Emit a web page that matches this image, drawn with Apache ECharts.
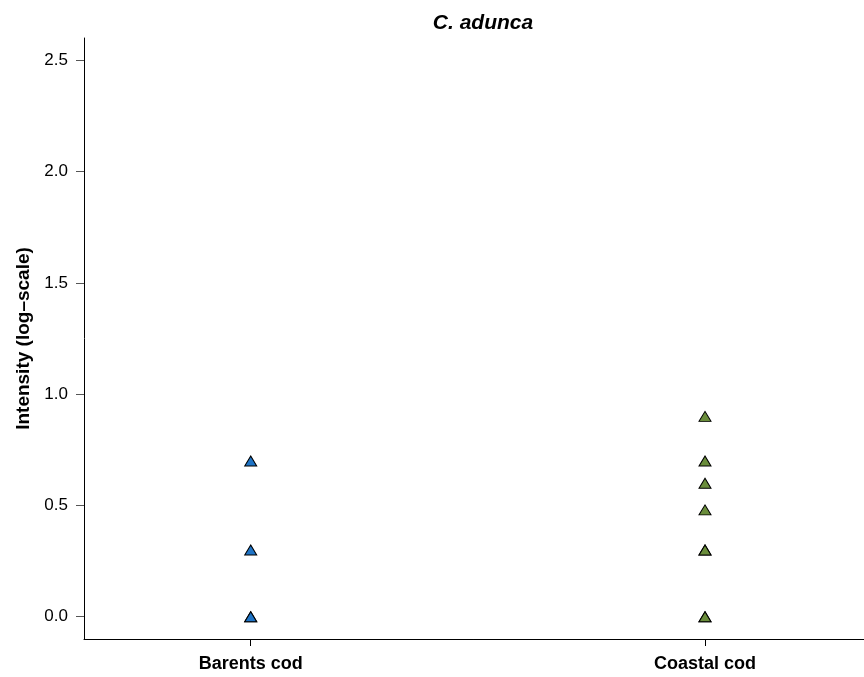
<!DOCTYPE html>
<html><head><meta charset="utf-8">
<script src="https://cdn.jsdelivr.net/npm/echarts@6/dist/echarts.min.js"></script>
<style>html,body{margin:0;padding:0;background:#fff}#c{width:864px;height:677px}</style>
</head><body><div id="c"></div>
<script>
const categories = ["Barents cod", "Coastal cod"];
const barentsValues = [0.70, 0.30, 0.0, 0.0];
const coastalValues = [0.90, 0.70, 0.60, 0.48, 0.30, 0.30, 0.0, 0.0];
const yTicks = [0, 0.5, 1.0, 1.5, 2.0, 2.5];
const colors = ["#1f74c6", "#6a8d3b"];

const chart = echarts.init(document.getElementById('c'), null, {renderer: 'canvas'});
const font = 'Liberation Sans, Arial, Helvetica, sans-serif';
chart.setOption({
  animation: false,
  title: {
    text: 'C. adunca', left: 478, top: 8, textAlign: 'center',
    textStyle: {fontFamily: font, fontSize: 21, fontWeight: 'bold', fontStyle: 'italic', color: '#000'}
  },
  grid: {left: 84, top: 38, right: 0, bottom: 38, containLabel: false, outerBoundsMode: 'none'},
  xAxis: {
    type: 'value', min: 0.633, max: 2.35,
    splitLine: {show: false},
    axisLine: {show: true, onZero: false, lineStyle: {color: '#000', width: 1}},
    axisTick: {show: true, length: 7, customValues: [1, 2], lineStyle: {color: '#000'}},
    axisLabel: {
      customValues: [1, 2], margin: 16,
      formatter: v => categories[Math.round(v) - 1] || '',
      fontFamily: font, fontSize: 18, fontWeight: 'bold', color: '#000'
    }
  },
  yAxis: {
    type: 'value', min: -0.1, max: 2.6,
    name: 'Intensity (log\u2013scale)', nameLocation: 'middle', nameGap: 51, nameRotate: 90,
    nameTextStyle: {fontFamily: font, fontSize: 19, fontWeight: 'bold', color: '#000'},
    splitLine: {show: false},
    axisLine: {show: true, onZero: false, lineStyle: {color: '#000', width: 1}},
    axisTick: {show: true, length: 8, customValues: yTicks, lineStyle: {color: '#555'}},
    axisLabel: {
      customValues: yTicks, margin: 16,
      formatter: v => v.toFixed(1),
      fontFamily: font, fontSize: 17, color: '#000'
    }
  },
  series: [
    {
      type: 'scatter', symbol: 'triangle', symbolSize: [12, 10],
      data: barentsValues.map(v => [1, v]),
      itemStyle: {color: colors[0], borderColor: '#000', borderWidth: 1, opacity: 1}
    },
    {
      type: 'scatter', symbol: 'triangle', symbolSize: [12, 10],
      data: coastalValues.map(v => [2, v]),
      itemStyle: {color: colors[1], borderColor: '#000', borderWidth: 1, opacity: 1}
    }
  ]
});
</script></body></html>
